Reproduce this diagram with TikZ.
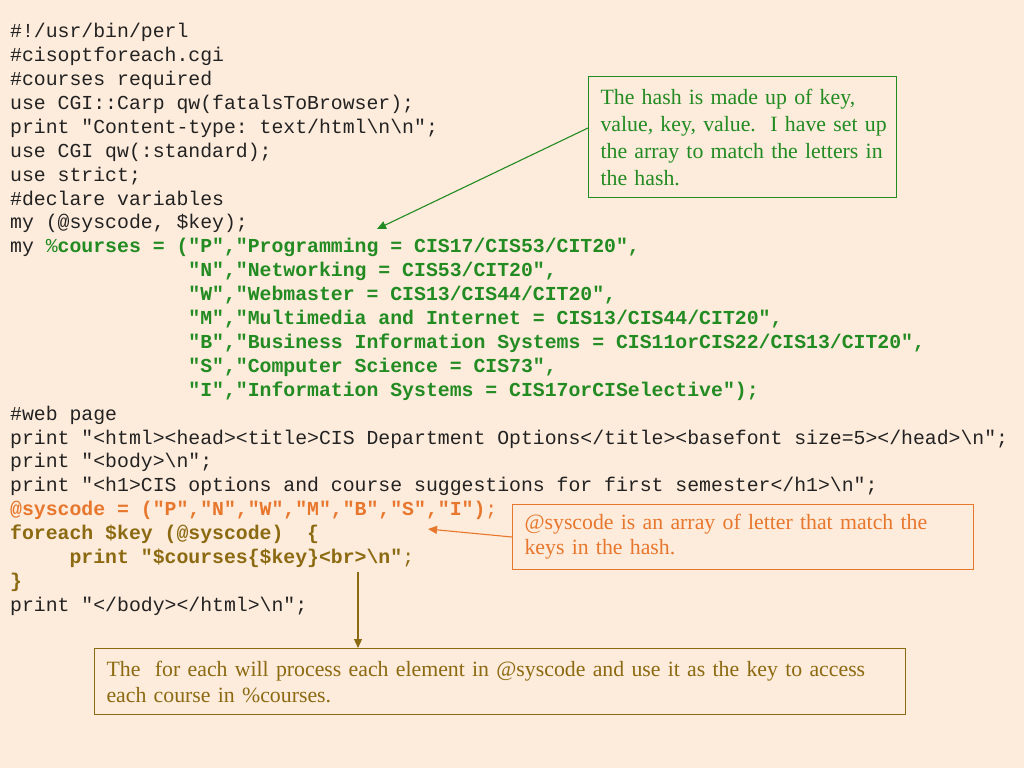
\documentclass[tikz,border=0pt]{standalone}
\usepackage{fontspec}
\setmainfont{Liberation Serif}
\newfontfamily\codefont{Liberation Mono}
\usetikzlibrary{arrows.meta,calc}
\definecolor{bgc}{HTML}{FDEBDB}
\definecolor{codeblack}{HTML}{222222}
\definecolor{hgreen}{HTML}{228B22}
\definecolor{horange}{HTML}{E8772E}
\definecolor{hbrown}{HTML}{8C6A12}
\tikzset{
  code/.style={anchor=base west, inner sep=0pt, text=codeblack,
    font=\codefont\frenchspacing\fontsize{19.8}{23.9}\selectfont},
  boldcode/.style={code, font=\codefont\frenchspacing\bfseries\fontsize{19.8}{23.9}\selectfont},
  note/.style={draw, line width=1.1pt, anchor=north west, align=left,
    inner xsep=12pt, inner ysep=0pt,
    font=\fontsize{21.8}{27}\selectfont},
  tip/.style={line width=1.1pt, -{Triangle[length=9pt,width=8pt]}}
}
\newcommand\bsl{\textbackslash}
\begin{document}
\begin{tikzpicture}[x=1pt,y=-1pt]
\fill[bgc] (0,0) rectangle (1024,768);
\useasboundingbox (0,0) rectangle (1024,768);
% code lines
\node[code] (l1)  at (10,37.7) {\#!/usr/bin/perl};
\node[code] (l2)  at (10,61.6) {\#cisoptforeach.cgi};
\node[code] (l3)  at (10,85.5) {\#courses required};
\node[code] (l4)  at (10,109.4) {use CGI::Carp qw(fatalsToBrowser);};
\node[code] (l5)  at (10,133.3) {print "Content-type: text/html\bsl n\bsl n";};
\node[code] (l6)  at (10,157.2) {use CGI qw(:standard);};
\node[code] (l7)  at (10,181.1) {use strict;};
\node[code] (l8)  at (10,205.0) {\#declare variables};
\node[code] (l9)  at (10,228.9) {my (@syscode, \$key);};
\node[code] (l10) at (10,252.8) {my {\color{hgreen}\%\bfseries courses = ("P","Programming = CIS17/CIS53/CIT20",}};
\node[boldcode,text=hgreen] (l11) at (188.2,276.7) {"N","Networking = CIS53/CIT20",};
\node[boldcode,text=hgreen] (l12) at (188.2,300.6) {"W","Webmaster = CIS13/CIS44/CIT20",};
\node[boldcode,text=hgreen] (l13) at (188.2,324.5) {"M","Multimedia and Internet = CIS13/CIS44/CIT20",};
\node[boldcode,text=hgreen] (l14) at (188.2,348.4) {"B","Business Information Systems = CIS11orCIS22/CIS13/CIT20",};
\node[boldcode,text=hgreen] (l15) at (188.2,372.3) {"S","Computer Science = CIS73",};
\node[boldcode,text=hgreen] (l16) at (188.2,396.2) {"I","Information Systems = CIS17orCISelective");};
\node[code] (l17) at (10,420.1) {\#web page};
\node[code] (l18) at (10,444.0) {print "<html><head><title>CIS Department Options</title><basefont size=5></head>\bsl n";};
\node[code] (l19) at (10,467.9) {print "<body>\bsl n";};
\node[code] (l20) at (10,491.8) {print "<h1>CIS options and course suggestions for first semester</h1>\bsl n";};
\node[code,text=horange] (l21) at (10,515.7) {{\bfseries @syscode = ("P","N","W","M","B","S","I")};};
\node[boldcode,text=hbrown] (l22) at (10,539.6) {foreach \$key (@syscode)~ \{};
\node[code,text=hbrown] (l23) at (69.4,563.5) {{\bfseries print "\$courses\{\$key\}<br>\bsl n"};};
\node[boldcode,text=hbrown] (l24) at (10,587.4) {\}};
\node[code] (l25) at (10,611.3) {print "</body></html>\bsl n";};
% notes
\node[note, draw=hgreen, text=hgreen, text width=284pt, minimum height=121pt] (gbox) at (588,76)
  {\mbox{The hash is made up of key,}\\
   \mbox{value, key, value.\ \ I have set up}\\
   \mbox{the array to match the letters in}\\
   \mbox{the hash.}};
\node[note, draw=horange, text=horange, text width=437pt, minimum height=65pt,
  font=\fontsize{21.8}{25}\selectfont] (obox) at (512,504)
  {\mbox{@syscode is an array of letter that match the}\\
   \mbox{keys in the hash.}};
\node[note, draw=hbrown, text=hbrown, text width=787pt, minimum height=66pt,
  font=\fontsize{21.8}{26}\selectfont] (bbox) at (94,648)
  {\mbox{The\ \ for each will process each element in @syscode and use it as the key to access}\\
   \mbox{each course in \%courses.}};
% connectors
\coordinate (gtip) at (377,229);
\coordinate (otip) at (428,529);
\coordinate (bstart) at (358,572);
\draw[tip, hgreen] ($(gbox.north west)+(0,52)$) -- (gtip);
\draw[tip, horange] ($(obox.north west)+(0,33)$) -- (otip);
\draw[tip, hbrown] (bstart) -- (bstart |- bbox.north);
\end{tikzpicture}
\end{document}
